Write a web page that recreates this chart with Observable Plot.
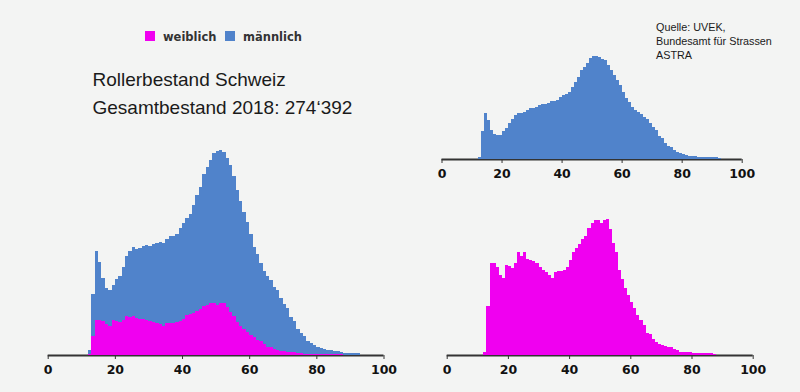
<!DOCTYPE html>
<html><head><meta charset="utf-8">
<script src="https://cdn.jsdelivr.net/npm/d3@7"></script>
<script src="https://cdn.jsdelivr.net/npm/@observablehq/plot@0.6"></script>
<style>
html,body{margin:0;padding:0;background:#f3f4f3;}
#wrap{position:relative;width:800px;height:392px;background:#f3f4f3;overflow:hidden;font-family:"Liberation Sans",Arial,sans-serif;}
.abs{position:absolute;white-space:nowrap;}
.sw{position:absolute;width:10px;height:10px;}
.lg{position:absolute;font-family:"DejaVu Sans",Verdana,sans-serif;font-weight:bold;font-size:11.5px;line-height:14px;color:#333;white-space:nowrap;}
.title{position:absolute;left:92.5px;top:66.4px;font-size:19px;line-height:28px;color:#1a1a1a;white-space:nowrap;}
.src{position:absolute;left:656px;top:20.3px;font-size:10.8px;line-height:14px;color:#1a1a1a;white-space:nowrap;}
</style></head><body>
<div id="wrap">
  <div class="sw" style="left:145px;top:31px;background:#f000f0"></div>
  <div class="lg" style="left:163px;top:30px">weiblich</div>
  <div class="sw" style="left:225px;top:31px;background:#5083cb"></div>
  <div class="lg" style="left:243px;top:30px">männlich</div>
  <div class="title">Rollerbestand Schweiz<br>Gesamtbestand 2018: 274‘392</div>
  <div class="src">Quelle: UVEK,<br>Bundesamt für Strassen<br>ASTRA</div>
  <div id="pLeft" class="abs" style="left:0px;top:130px"></div>
  <div id="pTop" class="abs" style="left:400px;top:40px"></div>
  <div id="pBottom" class="abs" style="left:400px;top:200px"></div>
</div>
<script>
// Age in years (first bar of each series)
const maleStartAge = 12;
const femaleStartAge = 12;
// Number of scooters per age, männlich (ages 12..92)
const maleCounts = [
  130, 1590, 2600, 2190, 1630, 1380, 1350, 1350,
  1590, 1720, 2000, 2230, 2470, 2600, 2600, 2660, 2750, 2840,
  2840, 2940, 3030, 3090, 3090, 3160, 3270, 3270, 3310, 3500,
  3590, 3670, 3780, 4060, 4340, 4620, 4990, 5180, 5400, 5650,
  5780, 5780, 5700, 5610, 5550, 5270, 4990, 4710, 4430, 4150,
  3780, 3400, 3220, 2940, 2750, 2660, 2520, 2340, 2240, 2000,
  1780, 1630, 1310, 1160, 880, 750, 650, 500, 410, 340,
  280, 220, 190, 170, 150, 130, 110, 110, 90, 90, 90, 90, 80
];
// Number of scooters per age, weiblich (ages 12..87)
const femaleCounts = [
  50, 710, 1330, 1320, 1270, 1160, 1110, 1300,
  1280, 1250, 1330, 1480, 1430, 1480, 1390, 1370, 1360, 1320,
  1270, 1230, 1200, 1150, 1110, 1190, 1210, 1210, 1230, 1270,
  1370, 1490, 1540, 1600, 1670, 1720, 1830, 1900, 1950, 1950,
  1900, 1940, 1960, 1810, 1620, 1480, 1230, 1090, 970, 870,
  770, 680, 580, 510, 430, 320, 300, 230, 190, 160,
  145, 130, 120, 110, 90, 70, 50, 40, 40, 40,
  35, 35, 30, 30, 25, 25, 25, 20
];
const xTicks = [0, 20, 40, 60, 80, 100];
const colFemale = "#f000f0";
const colMale = "#5083cb";

const maleRows = maleCounts.map((v, i) => ({age: maleStartAge + i, m: v}));
const femaleRows = femaleCounts.map((v, i) => ({age: femaleStartAge + i, f: v}));
const femaleByAge = new Map(femaleRows.map(d => [d.age, d.f]));
const stackRows = maleRows.map(d => {
  const f = femaleByAge.get(d.age) ?? 0;
  return {age: d.age, f, total: f + d.m};
});

function axisMarks() {
  return [
    Plot.ruleY([0], {stroke: "#333", strokeWidth: 2}),
    Plot.axisX({ticks: xTicks, tickSize: 4, tickPadding: 6, stroke: "#333", fill: "#111", label: null, tickFormat: d => String(d)})
  ];
}
const baseStyle = {background: "transparent", fontFamily: "DejaVu Sans, Verdana, sans-serif", fontSize: "12.5px", fontWeight: "bold", overflow: "visible"};

const plotLeft = Plot.plot({
  width: 400, height: 250,
  marginLeft: 47.7, marginRight: 16.5, marginTop: 20, marginBottom: 25,
  x: {domain: [0, 100], label: null},
  y: {domain: [0, d3.max(stackRows, d => d.total)], axis: null},
  style: baseStyle,
  marks: [
    ...axisMarks(),
    Plot.rect(stackRows, {x1: "age", x2: d => d.age + 1, y1: "f", y2: "total", fill: colMale, shapeRendering: "crispEdges"}),
    Plot.rect(femaleRows, {x1: "age", x2: d => d.age + 1, y1: d => 0, y2: "f", fill: colFemale, shapeRendering: "crispEdges"})
  ]
});
document.getElementById("pLeft").appendChild(plotLeft);

const plotTop = Plot.plot({
  width: 400, height: 150,
  marginLeft: 41.5, marginRight: 58.3, marginTop: 16, marginBottom: 31,
  x: {domain: [0, 100], label: null},
  y: {domain: [0, d3.max(maleRows, d => d.m)], axis: null},
  style: baseStyle,
  marks: [
    ...axisMarks(),
    Plot.rect(maleRows, {x1: "age", x2: d => d.age + 1, y1: d => 0, y2: "m", fill: colMale, shapeRendering: "crispEdges"})
  ]
});
document.getElementById("pTop").appendChild(plotTop);

const plotBottom = Plot.plot({
  width: 400, height: 190,
  marginLeft: 46.7, marginRight: 47.3, marginTop: 19, marginBottom: 35,
  x: {domain: [0, 100], label: null},
  y: {domain: [0, d3.max(femaleRows, d => d.f)], axis: null},
  style: baseStyle,
  marks: [
    ...axisMarks(),
    Plot.rect(femaleRows, {x1: "age", x2: d => d.age + 1, y1: d => 0, y2: "f", fill: colFemale, shapeRendering: "crispEdges"})
  ]
});
document.getElementById("pBottom").appendChild(plotBottom);
</script>
</body></html>
